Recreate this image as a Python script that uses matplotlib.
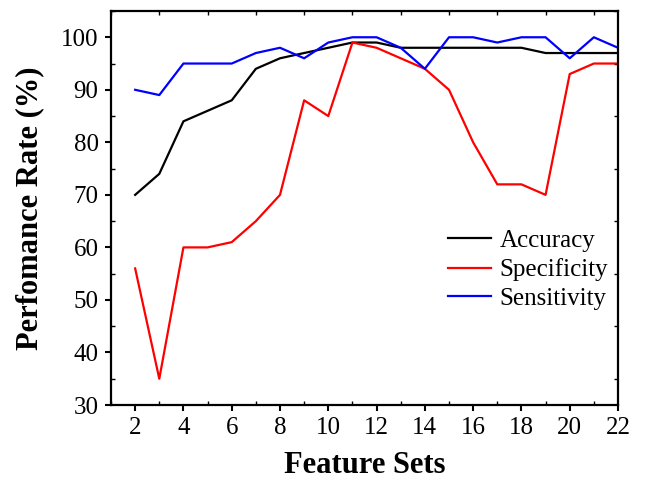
import matplotlib
matplotlib.use("Agg")
import matplotlib.pyplot as plt
from matplotlib.ticker import MultipleLocator

#=======================================================
# Data
#=======================================================

features    = list(range(2, 23))
accuracy    = [70, 74, 84, 86, 88, 94, 96, 97, 98, 99, 99, 98, 98, 98, 98, 98, 98, 97, 97, 97, 97]
specificity = [56, 35, 60, 60, 61, 65, 70, 88, 85, 99, 98, 96, 94, 90, 80, 72, 72, 70, 93, 95, 95]
sensitivity = [90, 89, 95, 95, 95, 97, 98, 96, 99, 100, 100, 98, 94, 100, 100, 99, 100, 100, 96, 100, 98]

#=======================================================
# Plot
#=======================================================

plt.rcParams['font.family'] = ['Liberation Serif', 'DejaVu Serif']

fig = plt.figure(figsize=(6.46, 4.84), dpi=100)
ax = fig.add_axes([111/646, 1 - 405/484, (618-111)/646, (405-11)/484])

ax.plot(features, accuracy, color='black', lw=1.6, label='Accuracy')
ax.plot(features, specificity, color='red', lw=1.6, label='Specificity')
ax.plot(features, sensitivity, color='blue', lw=1.6, label='Sensitivity')

ax.set_xlim(1, 22)
ax.set_ylim(30, 105)
ax.xaxis.set_major_locator(MultipleLocator(2))
ax.xaxis.set_minor_locator(MultipleLocator(1))
ax.yaxis.set_major_locator(MultipleLocator(10))
ax.yaxis.set_minor_locator(MultipleLocator(5))

ax.tick_params(which='major', direction='out', length=4, width=1.5, labelsize=18,
               pad=5, top=False, right=False)
ax.tick_params(which='minor', direction='in', length=3, width=1.0,
               top=True, right=True)
for s in ax.spines.values():
    s.set_linewidth(1.6)

ax.set_xlabel('Feature Sets', fontsize=22, fontweight='bold', labelpad=8)
ax.set_ylabel('Perfomance Rate (%)', fontsize=22, fontweight='bold', labelpad=12)

ax.legend(loc='center right', bbox_to_anchor=(1.0, 0.343), borderaxespad=0,
          frameon=False, fontsize=18, handlelength=1.7, labelspacing=0.25,
          handletextpad=0.35)

fig.savefig('out.png', dpi=100)
